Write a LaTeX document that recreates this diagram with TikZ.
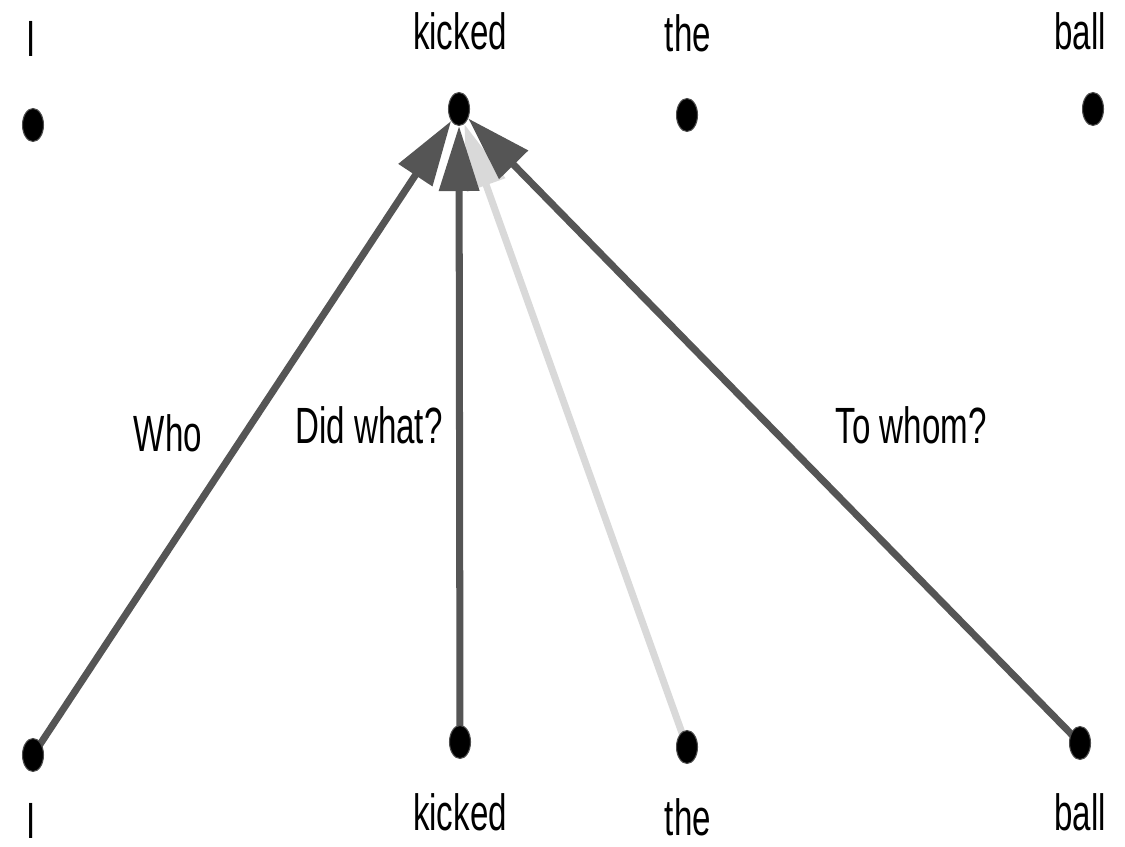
\documentclass[tikz,border=0pt]{standalone}
\usepackage{fontspec}
\setmainfont{Liberation Sans}[FakeStretch=0.65]
\usepackage{xcolor}
\definecolor{oscuro}{HTML}{555555}
\definecolor{claro}{HTML}{D9D9D9}
\usetikzlibrary{arrows.meta,shapes.geometric}

\begin{document}
\begin{tikzpicture}[x=0.02cm,y=-0.02cm,
        punto/.style={ellipse, fill=black, draw=black!70, line width=0.6pt,
                      inner sep=0pt, minimum width=0.42cm, minimum height=0.66cm},
        palabra/.style={anchor=base, inner sep=0pt, font=\fontsize{29}{30}\selectfont},
        flecha/.style={-{Triangle[length=1.3cm,width=0.78cm]}, line width=4pt, draw=#1},
        flecha/.default=oscuro]
        \useasboundingbox (0,0) rectangle (1125,847);
        % Palabras de arriba
        \node[palabra] (lt-i) at (31,57) {I};
        \node[palabra] (lt-kicked) at (460,50) {kicked};
        \node[palabra] (lt-the) at (688,52) {the};
        \node[palabra] (lt-ball) at (1080,50) {ball};
        % Puntos de arriba
        \node[punto] (t-i) at (33,125) {};
        \node[punto] (t-kicked) at (459,109) {};
        \node[punto] (t-the) at (687,115) {};
        \node[punto] (t-ball) at (1093,109) {};
        % Palabras de abajo
        \node[palabra] (lb-i) at (31,838) {I};
        \node[palabra] (lb-kicked) at (460,830) {kicked};
        \node[palabra] (lb-the) at (688,835) {the};
        \node[palabra] (lb-ball) at (1080,830) {ball};
        % Puntos de abajo
        \coordinate (c-i) at (33,755);
        \coordinate (c-kicked) at (460,742);
        \coordinate (c-the) at (687,747);
        \coordinate (c-ball) at (1080,743);
        % Flechas hacia kicked
        \draw[flecha=claro] (c-the) -- (t-kicked);
        \draw[flecha] (c-i) -- (t-kicked);
        \draw[flecha] (c-kicked) -- (t-kicked);
        \draw[flecha] (c-ball) -- (t-kicked);
        \node[punto] (b-i) at (c-i) {};
        \node[punto] (b-kicked) at (c-kicked) {};
        \node[punto] (b-the) at (c-the) {};
        \node[punto] (b-ball) at (c-ball) {};
        % Etiquetas de las flechas
        \node[palabra] (q-who) at (168,452) {Who};
        \node[palabra] (q-what) at (369,443) {Did what?};
        \node[palabra] (q-whom) at (911,443) {To whom?};
\end{tikzpicture}
\end{document}
